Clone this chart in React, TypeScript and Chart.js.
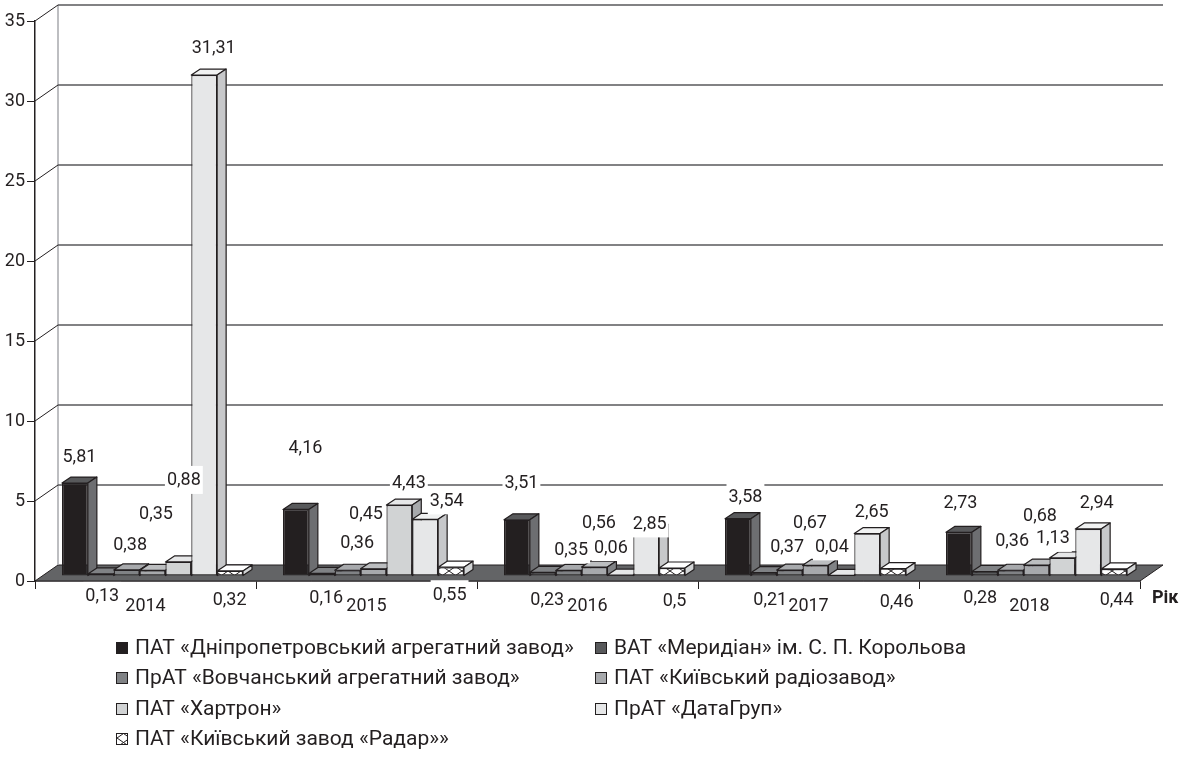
import React, { useEffect, useRef } from 'react';
import { Chart, registerables } from 'chart.js';

Chart.register(...registerables);

// ---------- data ----------
const years = ['2014', '2015', '2016', '2017', '2018'];
const seriesNames = [
  'ПАТ «Дніпропетровський агрегатний завод»',
  'ВАТ «Меридіан» ім. С. П. Корольова',
  'ПрАТ «Вовчанський агрегатний завод»',
  'ПАТ «Київський радіозавод»',
  'ПАТ «Хартрон»',
  'ПрАТ «ДатаГруп»',
  'ПАТ «Київський завод «Радар»»',
];
const dnipro = [5.81, 4.16, 3.51, 3.58, 2.73];
const meridian = [0.13, 0.16, 0.23, 0.21, 0.28];
const vovchansk = [0.38, 0.36, 0.35, 0.37, 0.36];
const radiozavod = [0.35, 0.45, 0.56, 0.67, 0.68];
const khartron = [0.88, 4.43, 0.06, 0.04, 1.13];
const datagroup = [31.31, 3.54, 2.85, 2.65, 2.94];
const radar = [0.32, 0.55, 0.5, 0.46, 0.44];
const yMin = 0;
const yMax = 35;
const yStep = 5;
const axisTitle = 'Рік';

// ---------- label placement (pixel nudges relative to each bar top) ----------
const offDnipro = [[0, -27], [5, -62], [0, -37], [3, -22], [-3, -30]];
const offMeridian = [[-3, 22], [0, 24], [0, 27], [2, 27], [-9, 26]];
const offVovchansk = [[-1, -25], [5, -28], [-2, -21], [-7, -24], [-3, -30]];
const offRadiozavod = [[-1, -57], [-12, -55], [0, -45], [-10, -43], [-1, -50]];
const offKhartron = [[1, -82], [5, -23], [-14, -28], [-14, -29], [-14, -20]];
const offDatagroup = [[5, -28], [17, -19], [-1, -7], [0, -22], [4, -26]];
const offRadar = [[-5, 29], [-6, 27], [-2, 32], [-1, 33], [-2, 31]];

// ---------- styles ----------
const frontColors = ['#231f20', '#58595b', '#808285', '#a7a9ac', '#d1d3d4', '#e6e7e8', 'PATTERN'];
const topColors = ['#58595b', '#808285', '#a7a9ac', '#bcbec0', '#e6e7e8', '#f1f2f2', '#ffffff'];
const sideColors = ['#6d6e71', '#414042', '#6d6e71', '#808285', '#a7a9ac', '#c7c8ca', '#d1d3d4'];
const INK = '#231f20';
const FONT = 'Roboto, "Noto Sans", sans-serif';
const FLOOR_DX = 23;
const FLOOR_DY = 16;
const BAR_SHIFT_X = 7;
const BAR_SHIFT_Y = 5;
const BAR_DX = 9;
const BAR_DY = 6;

function makePattern(): CanvasPattern | string {
  const c = document.createElement('canvas');
  c.width = 13;
  c.height = 9;
  const g = c.getContext('2d');
  if (!g) return '#ffffff';
  g.fillStyle = '#ffffff';
  g.fillRect(0, 0, 13, 9);
  g.strokeStyle = INK;
  g.lineWidth = 1;
  g.beginPath();
  g.moveTo(0, 0);
  g.lineTo(13, 9);
  g.moveTo(13, 0);
  g.lineTo(0, 9);
  g.stroke();
  return g.createPattern(c, 'repeat') || '#ffffff';
}

function fmt(v: number): string {
  return String(v).replace('.', ',');
}

export default function App() {
  const ref = useRef<HTMLCanvasElement | null>(null);

  useEffect(() => {
    document.body.style.margin = '0';
    const canvas = ref.current;
    if (!canvas) return;
    const pattern = makePattern();
    const values = [dnipro, meridian, vovchansk, radiozavod, khartron, datagroup, radar];
    const offsets = [offDnipro, offMeridian, offVovchansk, offRadiozavod, offKhartron, offDatagroup, offRadar];
    const fronts = frontColors.map((c) => (c === 'PATTERN' ? pattern : c));

    const line = (ctx: CanvasRenderingContext2D, x1: number, y1: number, x2: number, y2: number) => {
      ctx.beginPath();
      ctx.moveTo(x1, y1);
      ctx.lineTo(x2, y2);
      ctx.stroke();
    };

    const threeD = {
      id: 'threeD',
      beforeDatasetsDraw(chart: any) {
        const { ctx, chartArea: ca, scales } = chart;
        const y = scales.y;
        const y0 = y.getPixelForValue(0);
        ctx.save();
        // floor
        ctx.fillStyle = '#636466';
        ctx.beginPath();
        ctx.moveTo(ca.left, y0);
        ctx.lineTo(ca.left + FLOOR_DX, y0 - FLOOR_DY);
        ctx.lineTo(ca.right + FLOOR_DX, y0 - FLOOR_DY);
        ctx.lineTo(ca.right, y0);
        ctx.closePath();
        ctx.fill();
        ctx.strokeStyle = INK;
        ctx.lineWidth = 1;
        ctx.stroke();
        // back wall left edge
        ctx.strokeStyle = '#a7a9ac';
        ctx.lineWidth = 1.5;
        line(ctx, ca.left + FLOOR_DX, y.getPixelForValue(yMax) - FLOOR_DY, ca.left + FLOOR_DX, y0 - FLOOR_DY);
        // gridlines on back wall + connectors
        for (let v = yMin + yStep; v <= yMax; v += yStep) {
          const py = y.getPixelForValue(v);
          ctx.strokeStyle = '#58595b';
          ctx.lineWidth = 1.5;
          line(ctx, ca.left + FLOOR_DX, py - FLOOR_DY, ca.right + FLOOR_DX, py - FLOOR_DY);
          ctx.strokeStyle = INK;
          ctx.lineWidth = 1;
          line(ctx, ca.left, py, ca.left + FLOOR_DX, py - FLOOR_DY);
        }
        // bars, left to right
        for (let d = 0; d < chart.data.datasets.length; d++) {
          const meta = chart.getDatasetMeta(d);
          meta.data.forEach((bar: any) => {
            ctx.save();
            ctx.translate(BAR_SHIFT_X, -BAR_SHIFT_Y);
            bar.draw(ctx);
            const L = bar.x - bar.width / 2;
            const R = bar.x + bar.width / 2;
            const T = bar.y;
            const B = bar.base;
            ctx.lineWidth = 1.2;
            ctx.strokeStyle = INK;
            ctx.lineJoin = 'round';
            // top
            ctx.fillStyle = topColors[d];
            ctx.beginPath();
            ctx.moveTo(L, T);
            ctx.lineTo(L + BAR_DX, T - BAR_DY);
            ctx.lineTo(R + BAR_DX, T - BAR_DY);
            ctx.lineTo(R, T);
            ctx.closePath();
            ctx.fill();
            ctx.stroke();
            // side
            ctx.fillStyle = sideColors[d];
            ctx.beginPath();
            ctx.moveTo(R, T);
            ctx.lineTo(R + BAR_DX, T - BAR_DY);
            ctx.lineTo(R + BAR_DX, B - BAR_DY);
            ctx.lineTo(R, B);
            ctx.closePath();
            ctx.fill();
            ctx.stroke();
            ctx.restore();
          });
        }
        ctx.restore();
        return false;
      },
      afterDraw(chart: any) {
        const { ctx } = chart;
        ctx.save();
        // data labels
        ctx.font = `18px ${FONT}`;
        ctx.textAlign = 'center';
        ctx.textBaseline = 'middle';
        for (let d = 0; d < chart.data.datasets.length; d++) {
          const meta = chart.getDatasetMeta(d);
          meta.data.forEach((bar: any, k: number) => {
            const off = offsets[d][k];
            const cx = bar.x + BAR_SHIFT_X + BAR_DX / 2 + off[0];
            const cy = bar.y - BAR_SHIFT_Y + off[1];
            const txt = fmt(values[d][k]);
            const w = ctx.measureText(txt).width;
            ctx.fillStyle = '#ffffff';
            ctx.fillRect(cx - w / 2 - 2, cy - 14, w + 4, 28);
            ctx.fillStyle = INK;
            ctx.fillText(txt, cx, cy + 1);
          });
        }
        // axis title
        const xs = chart.scales.x;
        ctx.font = `bold 18px ${FONT}`;
        ctx.textAlign = 'left';
        ctx.fillStyle = INK;
        ctx.fillText(axisTitle, xs.right + 12, xs.top + 17);
        // legend
        ctx.font = `21px ${FONT}`;
        ctx.textAlign = 'left';
        const colX = [116, 595];
        const rowY = [648, 678, 709, 739];
        chart.data.datasets.forEach((ds: any, i: number) => {
          const col = i % 2;
          const row = Math.floor(i / 2);
          const mx = colX[col];
          const my = rowY[row];
          ctx.fillStyle = fronts[i];
          ctx.fillRect(mx, my - 6, 12, 12);
          ctx.strokeStyle = INK;
          ctx.lineWidth = 1;
          ctx.strokeRect(mx + 0.5, my - 5.5, 11, 11);
          ctx.fillStyle = INK;
          ctx.fillText(ds.label, mx + 19, my + 1);
        });
        ctx.restore();
      },
    };

    const chart = new Chart(canvas, {
      type: 'bar',
      data: {
        labels: years,
        datasets: values.map((vals, i) => ({
          label: seriesNames[i],
          data: vals,
          backgroundColor: fronts[i],
          borderColor: INK,
          borderWidth: 1.2,
          borderSkipped: false,
          categoryPercentage: 181 / 221,
          barPercentage: 1,
        })),
      },
      options: {
        responsive: false,
        animation: false,
        events: [],
        layout: { padding: { top: 21, right: 49, left: 0, bottom: 0 } },
        plugins: {
          legend: { display: false },
          tooltip: { enabled: false },
        },
        scales: {
          x: {
            afterFit: (s: any) => {
              s.height = 773 - 581;
            },
            grid: {
              offset: true,
              drawOnChartArea: false,
              drawTicks: true,
              tickLength: 8,
              color: INK,
              lineWidth: 1,
            },
            border: { display: true, color: INK, width: 1.5 },
            ticks: { color: INK, font: { family: FONT, size: 18 }, padding: 7 },
          },
          y: {
            min: yMin,
            max: yMax,
            afterFit: (s: any) => {
              s.width = 35;
            },
            grid: {
              drawOnChartArea: false,
              drawTicks: true,
              tickLength: 8,
              color: INK,
              lineWidth: 1,
            },
            border: { display: true, color: INK, width: 1.5 },
            ticks: { stepSize: yStep, color: INK, font: { family: FONT, size: 18 }, padding: 2 },
          },
        },
      },
      plugins: [threeD],
    });
    return () => chart.destroy();
  }, []);

  return (
    <div style={{ width: 1189, height: 773 }}>
      <canvas ref={ref} width={1189} height={773} style={{ display: 'block' }} />
    </div>
  );
}
